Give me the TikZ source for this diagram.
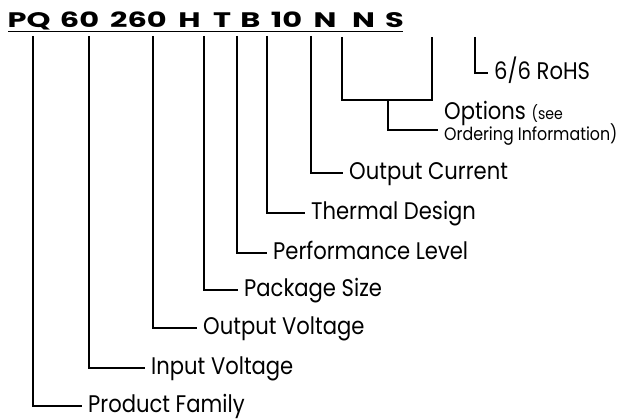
\documentclass[tikz,border=0pt]{standalone}
\usepackage{fontspec}
\setmainfont{Poppins}
\newfontfamily\labfont[FakeStretch=0.88]{Poppins}
\newfontfamily\hdrfont[FakeStretch=1.45]{Poppins}
\begin{document}
\begin{tikzpicture}[x=1pt,y=-1pt,
  conn/.style={line width=1.6pt, line join=miter, line cap=butt},
  hdr/.style={inner sep=0pt, anchor=base, font=\hdrfont\bfseries\fontsize{21}{23}\selectfont},
  lab/.style={anchor=west, inner ysep=0pt, inner xsep=6pt, text height=13.5pt, text depth=0pt,
    font=\labfont\fontsize{24}{27}\selectfont},
  smalllab/.style={anchor=west, inner ysep=0pt, inner xsep=6pt, text height=22pt, text depth=0pt,
    font=\labfont\fontsize{18}{21}\selectfont}]
\useasboundingbox (0,0) rectangle (622,420);
% header tokens
\node[hdr] (hPQ) at (29,28) {PQ};
\node[hdr] (h60) at (79.5,28) {60};
\node[hdr] (h260) at (138.5,28) {260};
\node[hdr] (hH) at (189.5,28) {H};
\node[hdr] (hT) at (222,28) {T};
\node[hdr] (hB) at (250.5,28) {B};
\node[hdr] (h10) at (286.5,28) {10};
\node[hdr] (hN1) at (325,28) {N};
\node[hdr] (hN2) at (363.5,28) {N};
\node[hdr] (hS) at (394.5,28) {S};
\coordinate (ulL) at (8,32);
\coordinate (ulR) at (403,32);
\draw[line width=1pt] (ulL) -- (ulR);
% tops of the connectors
\coordinate (tPQ) at (33,36);
\coordinate (t60) at (89,36);
\coordinate (t260) at (153,36);
\coordinate (tH) at (204,36);
\coordinate (tT) at (237,36);
\coordinate (tB) at (267,36);
\coordinate (t10) at (311,36);
\coordinate (tN1) at (342,37);
\coordinate (tN2) at (432,37);
\coordinate (tS) at (475,37);
\coordinate (nj) at (388,100);
% labels
\node[lab] (lPF) at (82,406) {Product Family};
\node[lab] (lIV) at (145,368) {Input Voltage};
\node[lab] (lOV) at (197,328) {Output Voltage};
\node[lab] (lPS) at (238,290) {Package Size};
\node[lab] (lPL) at (267,253) {Performance Level};
\node[lab] (lTD) at (305,213) {Thermal Design};
\node[lab] (lOC) at (343,173) {Output Current};
\node[smalllab] (lOI) at (438,130) {Ordering Information)};
\node[lab, anchor=base west, inner xsep=0pt, text height=0pt] (lOP) at (444,120) {Options {\fontsize{16}{18}\selectfont(see}};
\node[lab] (lR) at (488,73) {6/6 RoHS};
% connectors
\draw[conn] (tPQ) |- (lPF.west);
\draw[conn] (t60) |- (lIV.west);
\draw[conn] (t260) |- (lOV.west);
\draw[conn] (tH) |- (lPS.west);
\draw[conn] (tT) |- (lPL.west);
\draw[conn] (tB) |- (lTD.west);
\draw[conn] (t10) |- (lOC.west);
\draw[conn] (tN1) |- (nj) -| (tN2);
\draw[conn] (nj) |- (lOI.west);
\draw[conn] (tS) |- (lR.west);
\end{tikzpicture}
\end{document}
